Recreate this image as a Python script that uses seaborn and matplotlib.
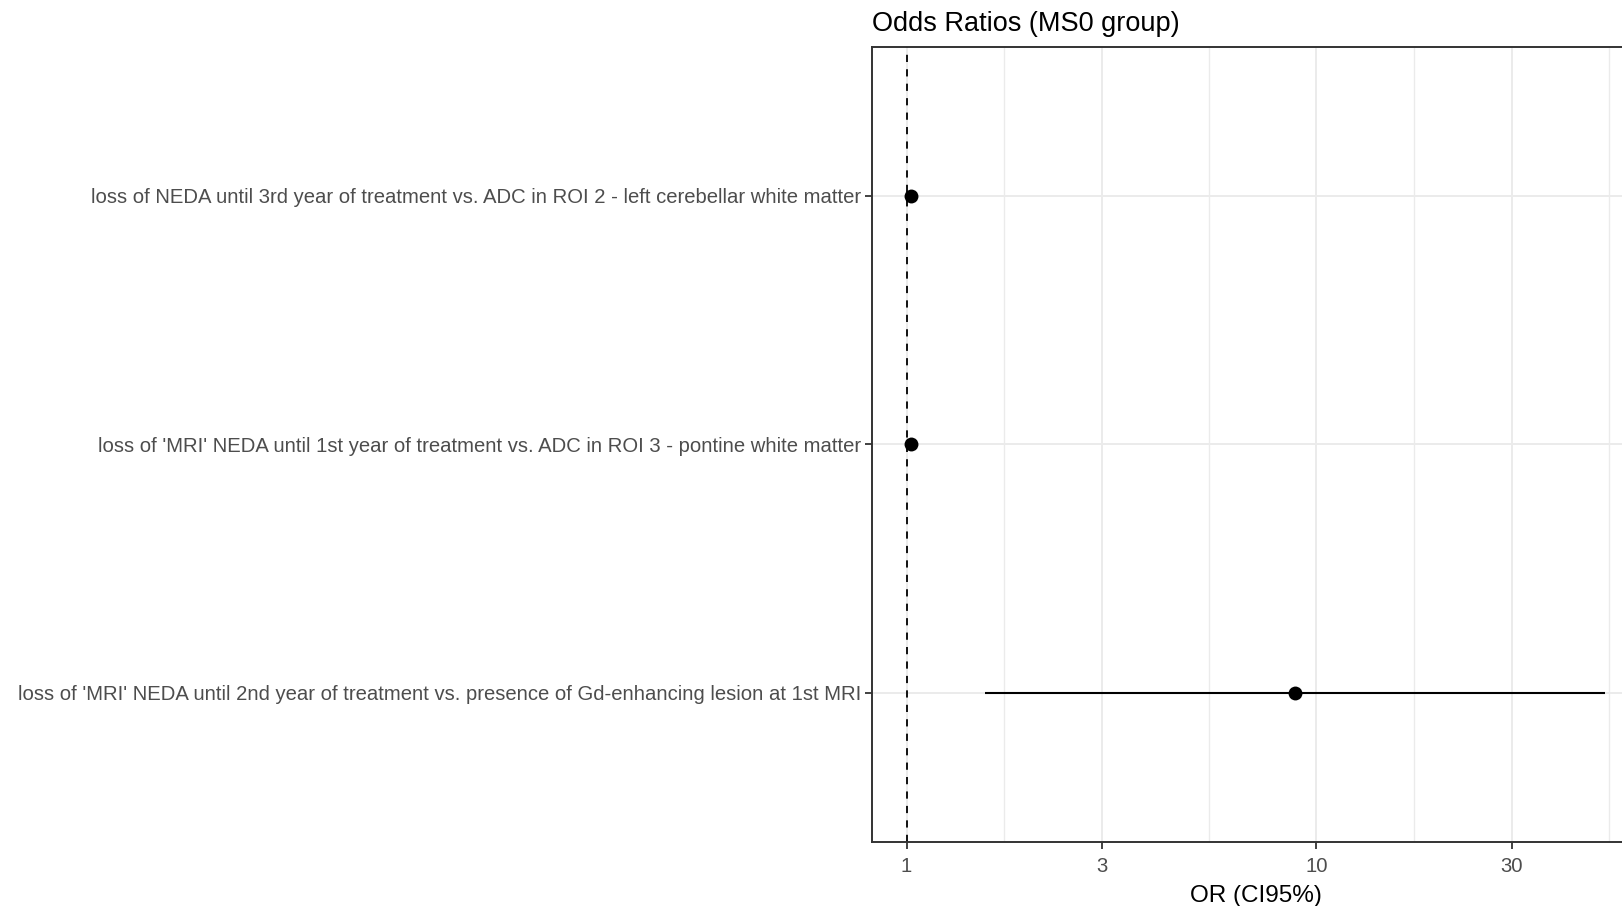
import numpy as np
import pandas as pd
import seaborn as sns
import matplotlib.pyplot as plt
from matplotlib.ticker import FixedLocator, NullFormatter

labels = [
    "loss of NEDA until 3rd year of treatment vs. ADC in ROI 2 - left cerebellar white matter",
    "loss of 'MRI' NEDA until 1st year of treatment vs. ADC in ROI 3 - pontine white matter",
    "loss of 'MRI' NEDA until 2nd year of treatment vs. presence of Gd-enhancing lesion at 1st MRI",
]
odds = [1.023, 1.025, 8.87]
ci_low = [1.002, 1.003, 1.557]
ci_high = [1.045, 1.048, 50.7]

major_ticks = [1, 3, 10, 30]
tick_labels = ["1", "3", "10", "30"]

df = pd.DataFrame({"label": labels, "OR": odds, "lo": ci_low, "hi": ci_high})

sns.set_theme(style="white")
plt.rcParams["font.family"] = ["Liberation Sans", "DejaVu Sans"]

fig = plt.figure(figsize=(16.22, 9.06), dpi=100)
ax = fig.add_axes([872 / 1622, 1 - 842 / 906, (1640 - 872) / 1622, (842 - 46.5) / 906])

ypos = np.arange(len(labels))
ax.hlines(ypos, df["lo"], df["hi"], color="black", lw=1.5, zorder=3)
sns.scatterplot(data=df, x="OR", y="label", ax=ax, color="black", s=100,
                edgecolor="black", linewidth=0, zorder=4)
ax.axvline(1, color="black", lw=1.3, ls=(0, (4, 4)), zorder=2)

ax.set_xscale("log")
# ggplot-like expansion of 5% on the log scale
lmin, lmax = np.log10(min(ci_low)), np.log10(max(ci_high))
pad = 0.05 * (lmax - lmin)
ax.set_xlim(10 ** (lmin - pad), 10 ** (lmax + pad))
ax.set_ylim(len(labels) - 0.4, -0.6)

lb = np.log10(major_ticks)
step = lb[1] - lb[0]
ext = np.append(lb, lb[-1] + step)
minor = 10 ** ((ext[:-1] + ext[1:]) / 2)
ax.xaxis.set_major_locator(FixedLocator(major_ticks))
ax.xaxis.set_minor_locator(FixedLocator(minor))
ax.xaxis.set_minor_formatter(NullFormatter())
ax.set_xticklabels(tick_labels)

ax.grid(True, which="major", color="#EBEBEB", lw=1.4, zorder=0)
ax.grid(True, which="minor", axis="x", color="#EBEBEB", lw=1.0, zorder=0)
ax.set_axisbelow(True)

for s in ax.spines.values():
    s.set_color("#333333")
    s.set_linewidth(1.4)

ax.tick_params(axis="y", which="major", length=5, width=1.3, color="#333333",
               labelcolor="#4D4D4D", labelsize=14.6, pad=3, left=True)
ax.tick_params(axis="x", which="major", length=5, width=1.3, color="#333333",
               labelcolor="#4D4D4D", labelsize=14.6, pad=6, bottom=True)
ax.tick_params(axis="x", which="minor", length=0)

ax.set_ylabel("")
ax.set_xlabel("OR (CI95%)", fontsize=17.5, color="black", labelpad=6)
ax.set_title("Odds Ratios (MS0 group)", fontsize=19.5, loc="left", pad=11, color="black")

fig.savefig("out.png", dpi=100)
